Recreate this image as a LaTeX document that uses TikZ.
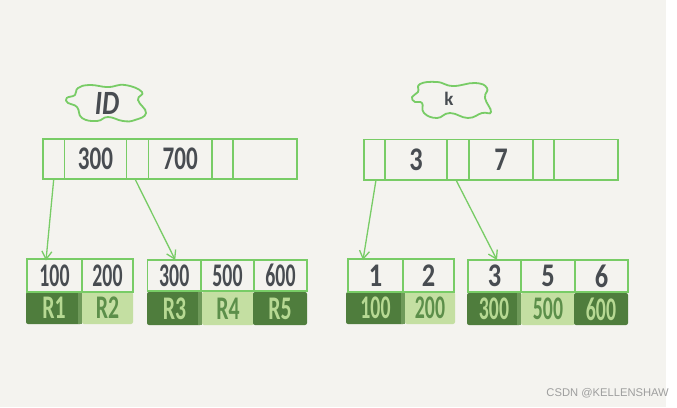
\documentclass[tikz,border=0pt]{standalone}
\usepackage{fontspec}
\setmainfont{Carlito}
\newfontfamily\markfont{Liberation Sans}
\usetikzlibrary{calc,arrows.meta}
\definecolor{paper}{HTML}{F4F3EF}
\definecolor{linegreen}{HTML}{78CC66}
\definecolor{ink}{HTML}{484C51}
\definecolor{darkleaf}{HTML}{4F7D3D}
\definecolor{midleaf}{HTML}{6F9A5A}
\definecolor{lightleaf}{HTML}{C4DFA2}
\definecolor{lighttext}{HTML}{B7D993}
\definecolor{darktext}{HTML}{5C8F4A}
\newcommand\rootnum[1]{\scalebox{.7}[1]{#1}}
\newcommand\leafnum[1]{\scalebox{.6}[1]{#1}}
\newcommand\leafname[1]{\scalebox{.66}[1]{#1}}
\newcommand\onedigit[1]{\scalebox{.8}[1]{#1}}
\newcommand\cellnode[6]{\node[cellbox,minimum width={(#4-#2)*1pt},minimum height={(#5-#3)*1pt}] (#1) at ({(#2+#4)/2},{(#3+#5)/2}) {#6};}
\newcommand\darknode[6]{\node[leafdark,minimum width={(#4-#2)*1pt},minimum height={(#5-#3)*1pt}] (#1) at ({(#2+#4)/2},{(#3+#5)/2}) {#6};}
\newcommand\lightnode[6]{\node[leaflight,minimum width={(#4-#2)*1pt},minimum height={(#5-#3)*1pt}] (#1) at ({(#2+#4)/2},{(#3+#5)/2}) {#6};}
\newcommand\leafband[1]{\fill[midleaf] ($(#1.north east)+(-4,0)$) rectangle (#1.south east);}
\tikzset{
  cellbox/.style={draw=linegreen,line width=1.4pt,inner sep=0pt,outer sep=0pt,text=ink,font=\bfseries\fontsize{33}{33}\selectfont},
  leafdark/.style={fill=darkleaf,rounded corners=2pt,inner sep=0pt,outer sep=0pt,text=lighttext,font=\bfseries\fontsize{33}{33}\selectfont},
  leaflight/.style={fill=lightleaf,rounded corners=2pt,inner sep=0pt,outer sep=0pt,text=darktext,font=\bfseries\fontsize{33}{33}\selectfont},
  cloudline/.style={draw=linegreen,line width=1.8pt,line join=round},
  pointer/.style={draw=linegreen,line width=1.3pt,-{Straight Barb[length=8pt,width=10pt,line width=1.3pt]}},
}
\begin{document}
\begin{tikzpicture}[x=1pt,y=-1pt]
\useasboundingbox (0,0) rectangle (677,407);
\fill[white] (0,0) rectangle (677,407);
\fill[paper] (0,0) rectangle (666,407);

% clouds
\draw[cloudline] plot[smooth cycle,tension=.8] coordinates {(66.7,98)(75,95)(78,88)(90,85)(108,87)(125,85)(142,92)(138,100)(146,113)(135,120)(123,121)(108,117)(97,121)(82,118)(77,107)(68,103)};
\node[text=ink,font=\itshape\bfseries\fontsize{34}{34}\selectfont,inner sep=0pt] (idlabel) at (107,103) {\scalebox{.8}[1]{ID}};
\draw[cloudline] plot[smooth cycle,tension=.8] coordinates {(412,97)(418,92)(420,84)(437,82)(453,86)(475,83)(487,88)(485,98)(491,112)(482,113)(468,118)(450,113)(437,118)(424,113)(422,103)(415,102)};
\node[text=ink,font=\bfseries\fontsize{19}{19}\selectfont,inner sep=0pt] (klabel) at (449,99) {k};

% left root
\cellnode{a1}{43}{139}{64.5}{179}{}
\cellnode{a2}{64.5}{139}{126.5}{179}{\rootnum{300}}
\cellnode{a3}{126.5}{139}{148.5}{179}{}
\cellnode{a4}{148.5}{139}{212}{179}{\rootnum{700}}
\cellnode{a5}{212}{139}{233}{179}{}
\cellnode{a6}{233}{139}{297}{179}{}

% right root
\cellnode{b1}{364}{139.5}{385}{180}{}
\cellnode{b2}{385}{139.5}{447}{180}{\onedigit{3}}
\cellnode{b3}{447}{139.5}{469}{180}{}
\cellnode{b4}{469}{139.5}{533}{180}{\onedigit{7}}
\cellnode{b5}{533}{139.5}{554}{180}{}
\cellnode{b6}{554}{139.5}{618}{180}{}

% left leaves
\darknode{p1}{26}{292}{82}{324}{\leafname{R1}}
\leafband{p1}
\lightnode{p2}{82}{292}{133}{324}{\leafname{R2}}
\darknode{p3}{147}{292}{202}{325}{\leafname{R3}}
\leafband{p3}
\lightnode{p4}{202}{292}{254}{325}{\leafname{R4}}
\darknode{p5}{253}{292}{307}{325}{\leafname{R5}}
\cellnode{c1}{27}{259}{82}{292}{\leafnum{100}}
\cellnode{c2}{82}{259}{133}{292}{\leafnum{200}}
\cellnode{c3}{147.5}{260}{201}{291}{\leafnum{300}}
\cellnode{c4}{201}{260}{254}{291}{\leafnum{500}}
\cellnode{c5}{254}{260}{307}{291}{\leafnum{600}}

% right leaves
\darknode{q1}{346}{292}{405}{324}{\leafnum{100}}
\leafband{q1}
\lightnode{q2}{405}{292}{455}{324}{\leafnum{200}}
\darknode{q3}{467}{293}{521}{325}{\leafnum{300}}
\leafband{q3}
\lightnode{q4}{521}{293}{575}{325}{\leafnum{500}}
\darknode{q5}{574}{293}{628}{325}{\leafnum{600}}
\cellnode{d1}{348}{259}{403}{292}{\onedigit{1}}
\cellnode{d2}{403}{259}{454}{292}{\onedigit{2}}
\cellnode{d3}{468}{260}{521}{292}{\onedigit{3}}
\cellnode{d4}{521}{260}{575}{292}{\onedigit{5}}
\cellnode{d5}{575}{260}{628}{292}{\onedigit{6}}

% pointers
\draw[pointer] (a1.south) -- ($(c1.north)+(-8.5,1.5)$);
\draw[pointer] ($(a3.south)+(-2.5,0)$) -- ($(c3.north)+(1,0)$);
\draw[pointer] ($(b1.south)+(1.5,0)$) -- ($(d1.north)+(-12.5,1)$);
\draw[pointer] ($(b3.south)+(-2,0)$) -- ($(d3.north)+(2.5,0)$);

\node[text=black!38,font=\markfont\fontsize{11.2}{11.2}\selectfont,anchor=east,inner sep=0pt] (mark) at (669,393.5) {CSDN @KELLENSHAW};
\end{tikzpicture}
\end{document}
